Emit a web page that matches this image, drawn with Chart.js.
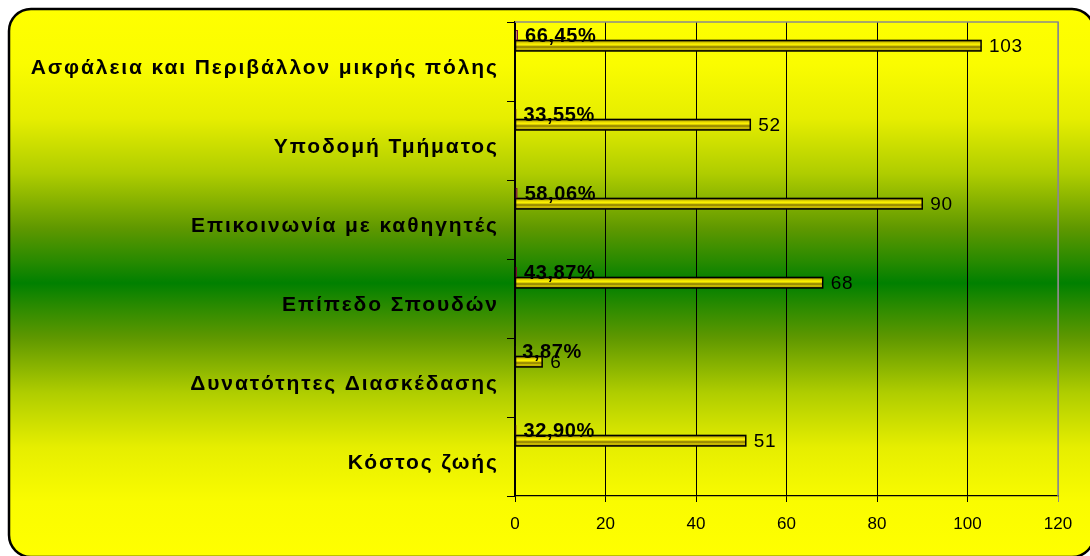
<!DOCTYPE html>
<html><head><meta charset="utf-8">
<script src="https://cdn.jsdelivr.net/npm/chart.js@4/dist/chart.umd.min.js"></script>
<style>html,body{margin:0;padding:0;background:#fff;} #wrap{width:1090px;height:556px;position:relative;overflow:hidden;}</style>
</head><body><div id="wrap"><canvas id="c" width="1090" height="556"></canvas></div>
<script>
// ---- data ----
const categories = [
  'Ασφάλεια και Περιβάλλον μικρής πόλης',
  'Υποδομή Τμήματος',
  'Επικοινωνία με καθηγητές',
  'Επίπεδο Σπουδών',
  'Δυνατότητες Διασκέδασης',
  'Κόστος ζωής'
];
const countValues = [103, 52, 90, 68, 6, 51];
const percentValues = [66.45, 33.55, 58.06, 43.87, 3.87, 32.90];
const xMin = 0, xMax = 120, xStep = 20;

const FONT = "'Liberation Sans', Arial, sans-serif";
const emptySeries = categories.map(() => null);

const backgroundPlugin = {
  id: 'bgPanel',
  beforeDraw(chart) {
    const ctx = chart.ctx;
    const x0 = 9, y0 = 9, x1 = 1094, y1 = 557, r = 22;
    ctx.save();
    ctx.beginPath();
    ctx.moveTo(x0 + r, y0);
    ctx.lineTo(x1 - r, y0);
    ctx.arcTo(x1, y0, x1, y0 + r, r);
    ctx.lineTo(x1, y1 - r);
    ctx.arcTo(x1, y1, x1 - r, y1, r);
    ctx.lineTo(x0 + r, y1);
    ctx.arcTo(x0, y1, x0, y1 - r, r);
    ctx.lineTo(x0, y0 + r);
    ctx.arcTo(x0, y0, x0 + r, y0, r);
    ctx.closePath();
    const g = ctx.createLinearGradient(0, y0, 0, y1);
    const stops = [
      [0, '#ffff00'], [0.1, '#fafc00'], [0.2, '#e6ee00'], [0.3, '#afcd00'], [0.4, '#5f9800'],
      [0.46, '#288a00'], [0.5, '#008000'],
      [0.54, '#288a00'], [0.6, '#5f9800'], [0.7, '#afcd00'], [0.8, '#e6ee00'], [0.9, '#fafc00'], [1, '#ffff00']
    ];
    stops.forEach(s => g.addColorStop(s[0], s[1]));
    ctx.fillStyle = g;
    ctx.fill();
    ctx.lineWidth = 2.5;
    ctx.strokeStyle = '#000';
    ctx.stroke();
    ctx.restore();
  },
  beforeDatasetsDraw(chart) {
    const ctx = chart.ctx, a = chart.chartArea;
    ctx.save();
    ctx.strokeStyle = '#8a8a8a';
    ctx.lineWidth = 1.5;
    ctx.beginPath();
    ctx.moveTo(a.left, a.top);
    ctx.lineTo(a.right, a.top);
    ctx.lineTo(a.right, a.bottom);
    ctx.stroke();
    ctx.restore();
  }
};

const cylinderPlugin = {
  id: 'cylinder',
  afterDatasetDraw(chart, args) {
    if (args.index !== 1) return;
    const ctx = chart.ctx;
    args.meta.data.forEach(el => {
      const p = el.getProps(['x', 'y', 'base', 'height'], true);
      const left = Math.min(p.x, p.base), right = Math.max(p.x, p.base);
      const top = p.y - p.height / 2, h = p.height;
      const g = ctx.createLinearGradient(0, top, 0, top + h);
      g.addColorStop(0, '#5a5000');
      g.addColorStop(0.22, '#e6d800');
      g.addColorStop(0.42, '#fff400');
      g.addColorStop(0.62, '#857600');
      g.addColorStop(0.82, '#e0d200');
      g.addColorStop(1, '#5a5000');
      ctx.save();
      ctx.fillStyle = g;
      ctx.fillRect(left, top, right - left, h);
      ctx.strokeStyle = '#000';
      ctx.lineWidth = 1.5;
      ctx.strokeRect(left, top, right - left, h);
      ctx.restore();
    });
  }
};

const labelPlugin = {
  id: 'valueLabels',
  afterDatasetsDraw(chart) {
    const ctx = chart.ctx;
    const pctMeta = chart.getDatasetMeta(0);
    const cntMeta = chart.getDatasetMeta(1);
    const yScale = chart.scales.y;
    ctx.save();
    ctx.fillStyle = '#000';
    ctx.textBaseline = 'alphabetic';

    // category labels (y axis)
    ctx.textAlign = 'right';
    ctx.font = 'bold 21px ' + FONT;
    const catSpacing = 1.9;
    ctx.letterSpacing = catSpacing + 'px';
    categories.forEach((c, i) => {
      const y = yScale.getPixelForValue(i);
      ctx.fillText(c, yScale.right - 18 + catSpacing, y + 12);
    });

    // count labels
    ctx.textAlign = 'left';
    ctx.letterSpacing = '0.7px';
    ctx.font = '19px ' + FONT;
    cntMeta.data.forEach((el, i) => {
      const p = el.getProps(['x', 'y'], true);
      ctx.fillText(String(countValues[i]), p.x + 8, p.y + 6.5);
    });

    // percentage labels
    ctx.letterSpacing = '0.6px';
    ctx.font = 'bold 20px ' + FONT;
    pctMeta.data.forEach((el, i) => {
      const p = el.getProps(['x', 'y', 'height'], true);
      ctx.fillText(percentValues[i].toFixed(2).replace('.', ',') + '%', p.x + 7, p.y + p.height / 2 + 2);
    });
    ctx.restore();
  }
};

const spacer = () => ({
  label: '',
  data: emptySeries,
  backgroundColor: 'rgba(0,0,0,0)',
  borderWidth: 0
});

new Chart(document.getElementById('c'), {
  type: 'bar',
  data: {
    labels: categories,
    datasets: [
      {
        label: '%',
        data: percentValues.map(v => v / 100),
        backgroundColor: '#e0829a',
        borderColor: '#7a1030',
        borderWidth: 1,
        borderSkipped: false
      },
      {
        label: 'count',
        data: countValues,
        backgroundColor: '#d8c800',
        borderColor: '#000',
        borderWidth: 1.5,
        borderSkipped: false
      },
      spacer(), spacer(), spacer(), spacer()
    ]
  },
  options: {
    indexAxis: 'y',
    responsive: false,
    animation: false,
    devicePixelRatio: 1,
    categoryPercentage: 0.8,
    barPercentage: 1,
    layout: { padding: { top: 22, right: 32, left: 0, bottom: 0 } },
    plugins: {
      legend: { display: false },
      tooltip: { enabled: false },
      title: { display: false }
    },
    scales: {
      x: {
        min: xMin, max: xMax,
        afterFit(s) { s.height = 60; },
        ticks: {
          stepSize: xStep,
          color: '#000',
          font: { family: FONT, size: 17 },
          padding: 12,
          maxRotation: 0
        },
        grid: {
          color: ctx => (ctx.tick && ctx.tick.value === xMax) ? '#8a8a8a' : '#000',
          lineWidth: 1,
          tickLength: 6,
          drawTicks: true
        },
        border: { display: true, color: '#000', width: 1.2 }
      },
      y: {
        afterFit(s) { s.width = 515; },
        ticks: { display: false },
        grid: {
          drawOnChartArea: false,
          color: '#000',
          tickLength: 8,
          offset: true
        },
        border: { display: true, color: '#000', width: 1.2 }
      }
    }
  },
  plugins: [backgroundPlugin, cylinderPlugin, labelPlugin]
});
</script>
</body></html>
